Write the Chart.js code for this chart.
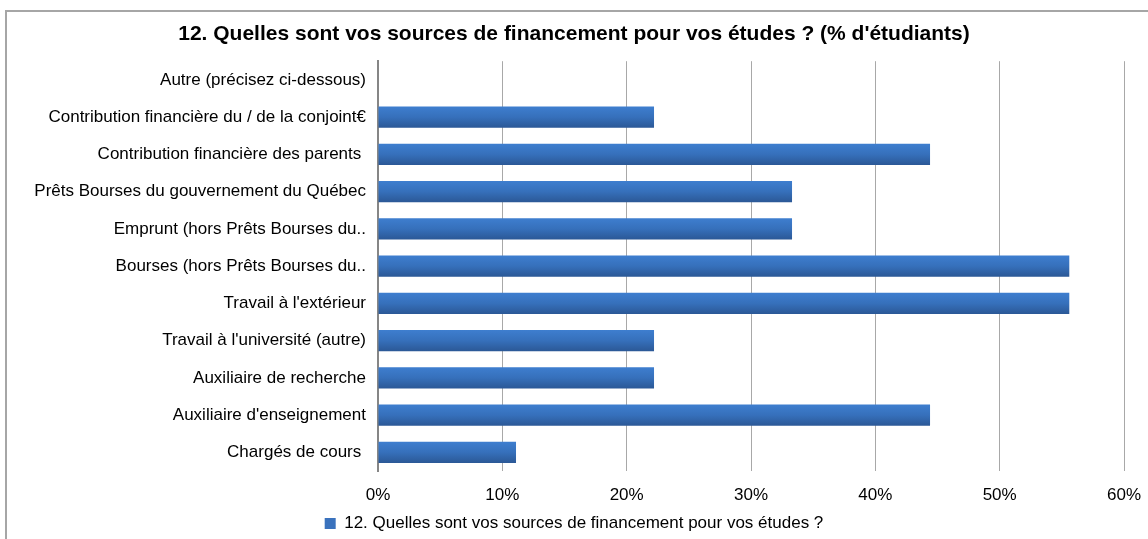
<!DOCTYPE html>
<html>
<head>
<meta charset="utf-8">
<script src="https://cdn.jsdelivr.net/npm/chart.js@4.4.1/dist/chart.umd.min.js"></script>
<style>
    body { margin: 0; background: #fff; overflow: hidden; }
    #cadre { position: absolute; left: 5px; top: 10px; width: 1300px; height: 700px; border: 2px solid #a6a6a6; }
    #wrap { position: absolute; left: 0; top: 0; width: 1148px; height: 539px; }
</style>
</head>
<body>
<div id="cadre"></div>
<div id="wrap"><canvas id="chartSources" width="1148" height="539"></canvas></div>
<script>
const categories = [
    "Autre (précisez ci-dessous)",
    "Contribution financière du / de la conjoint€",
    "Contribution financière des parents ",
    "Prêts Bourses du gouvernement du Québec",
    "Emprunt (hors Prêts Bourses du..",
    "Bourses (hors Prêts Bourses du..",
    "Travail à l'extérieur",
    "Travail à l'université (autre)",
    "Auxiliaire de recherche",
    "Auxiliaire d'enseignement",
    "Chargés de cours "
];
const pourcentages = [0, 22.2, 44.4, 33.3, 33.3, 55.6, 55.6, 22.2, 22.2, 44.4, 11.1];
const titre = "12. Quelles sont vos sources de financement pour vos études ? (% d'étudiants)";
const serie = "12. Quelles sont vos sources de financement pour vos études ?";

// degrade vertical sur chaque barre, comme dans Excel
const degrade = {
    id: 'degrade',
    beforeDatasetsDraw(chart) {
        const ctx = chart.ctx;
        chart.getDatasetMeta(0).data.forEach(bar => {
            const h = bar.height;
            const g = ctx.createLinearGradient(0, bar.y - h / 2, 0, bar.y + h / 2);
            g.addColorStop(0, '#3e7ecf');
            g.addColorStop(0.5, '#3670bb');
            g.addColorStop(1, '#2b5896');
            bar.options = Object.assign({}, bar.options, { backgroundColor: g });
        });
    }
};

const config = {
    type: 'bar',
    data: {
        labels: categories,
        datasets: [{
            label: serie,
            data: pourcentages,
            backgroundColor: '#3a72bd',
            borderWidth: 0,
            barPercentage: 0.57,
            categoryPercentage: 1
        }]
    },
    options: {
        indexAxis: 'y',
        responsive: false,
        animation: false,
        layout: { padding: { left: 0, right: 0, top: 8, bottom: -3 } },
        scales: {
            x: {
                min: 0,
                max: 60,
                afterFit(scale) {
                    scale.paddingRight = 24;
                    scale.height = 44;
                },
                ticks: {
                    stepSize: 10,
                    color: '#000',
                    padding: 14,
                    font: { family: 'Liberation Sans', size: 17 },
                    callback: v => v + '%'
                },
                grid: { color: '#a8a8a8', lineWidth: 1, drawTicks: false },
                border: { display: false }
            },
            y: {
                afterFit(scale) { scale.width = 378; },
                ticks: {
                    color: '#000',
                    padding: 12,
                    font: { family: 'Liberation Sans', size: 17 }
                },
                grid: { display: false, drawTicks: false },
                border: { display: true, color: '#868686', width: 2 }
            }
        },
        plugins: {
            title: {
                display: true,
                text: titre,
                color: '#000',
                font: { family: 'Liberation Sans', size: 21, weight: 'bold' },
                padding: { top: 14, bottom: 14 }
            },
            legend: {
                position: 'bottom',
                labels: {
                    color: '#000',
                    boxWidth: 11,
                    boxHeight: 11,
                    padding: 0,
                    font: { family: 'Liberation Sans', size: 17 }
                }
            },
            tooltip: { enabled: false }
        }
    },
    plugins: [degrade]
};

let monGraphique = new Chart("chartSources", config);
</script>
</body>
</html>
